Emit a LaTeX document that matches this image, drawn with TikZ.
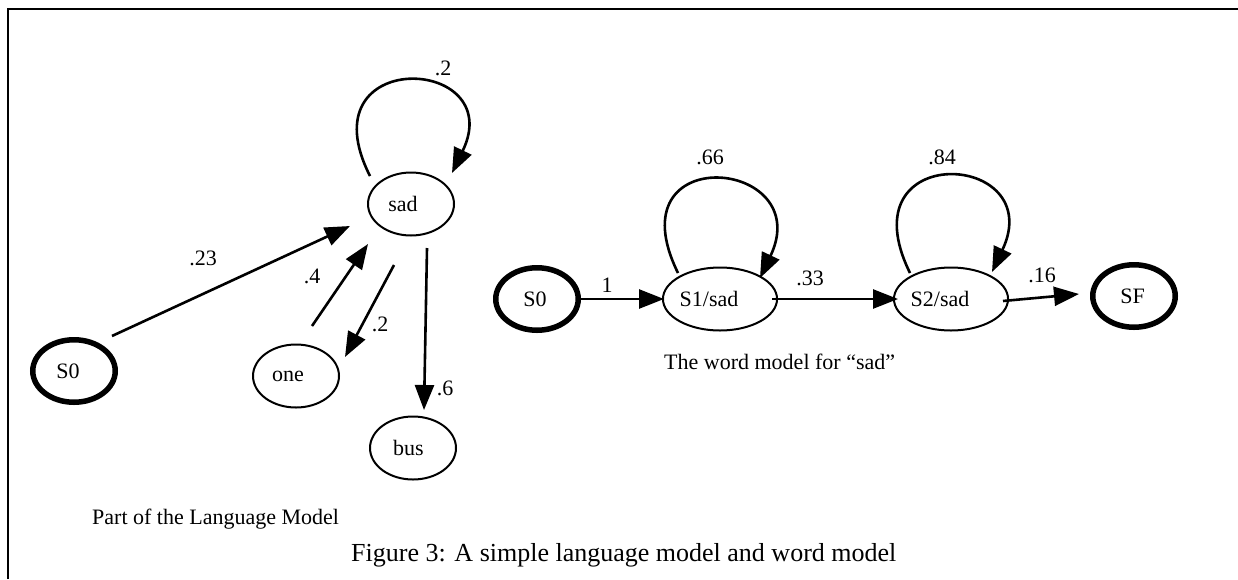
\documentclass[tikz,border=0pt]{standalone}
\usepackage{fontspec}
\setmainfont{Liberation Serif}
\usetikzlibrary{shapes.geometric,arrows.meta}
\begin{document}
\begin{tikzpicture}[x=1pt,y=-1pt,
  st/.style={ellipse,draw,line width=2pt,minimum width=86pt,minimum height=63pt,inner sep=0pt,font=\fontsize{22}{26}\selectfont},
  endst/.style={st,line width=5.5pt,minimum width=82.5pt,minimum height=62.5pt},
  edge/.style={line width=2.6pt,-{Triangle[length=25pt,width=19pt]}},
  lbl/.style={inner sep=0pt,font=\fontsize{22}{26}\selectfont},
  frame/.style={line width=2pt}
]
\useasboundingbox (0,0) rectangle (1238,579);
% frame
\coordinate (fb) at (7.5,579);
\coordinate (fc) at (7.5,8.5);
\coordinate (fr) at (1238,8.5);
\draw[frame] (fb) -- (fc) -- (fr);

% ---- language model ----
\node[endst] (L0) at (74,371) {S0\hspace*{12pt}};
\node[st] (sad) at (411,204) {sad\hspace*{16pt}};
\node[st] (one) at (296,376) {one\hspace*{16pt}};
\node[st] (bus) at (413,448) {bus\hspace*{9pt}};

\draw[edge] ([shift={(-41,-28)}]sad.center) .. controls +(-66,-130) and +(57,-118) .. ([shift={(41,-31)}]sad.center);
\draw[edge] ([shift={(38,-35)}]L0.center) -- ([shift={(-61,22)}]sad.center);
\draw[edge] ([shift={(16,-50)}]one.center) -- ([shift={(-43,40)}]sad.center);
\draw[edge] ([shift={(-17,61)}]sad.center) -- ([shift={(49,-19)}]one.center);
\draw[edge] ([shift={(16,44)}]sad.center) -- ([shift={(11,-38)}]bus.center);

\node[lbl] (l1) at (443,68) {.2};
\node[lbl] (l2) at (203,258) {.23};
\node[lbl] (l3) at (312,276) {.4};
\node[lbl] (l4) at (380,324) {.2};
\node[lbl] (l5) at (445,388) {.6};
\node[lbl,anchor=base west] (t1) at (92,524) {Part of the Language Model};

% ---- word model ----
\node[endst] (R0) at (537,299) {S0\hspace*{4pt}};
\node[st] (S1) at (720,299) {S1/sad\hspace*{22pt}};
\node[st] (S2) at (951,299) {S2/sad\hspace*{22pt}};
\node[endst] (SF) at (1134,296) {SF\hspace*{3pt}};

\draw[edge] ([shift={(-42,-26)}]S1.center) .. controls +(-66,-134) and +(57,-120) .. ([shift={(40,-21)}]S1.center);
\draw[edge] ([shift={(-41,-26)}]S2.center) .. controls +(-66,-134) and +(57,-121) .. ([shift={(41,-27)}]S2.center);
\draw[edge] ([xshift=-1pt]R0.east) -- ([xshift=-56pt]S1.center);
\draw[edge] ([xshift=52pt]S1.center) -- ([xshift=-53pt]S2.center);
\draw[edge] ([shift={(52,2)}]S2.center) -- ([shift={(-55,-2)}]SF.center);

\node[lbl] (l6) at (607,285) {1};
\node[lbl] (l7) at (810,278) {.33};
\node[lbl] (l8) at (710,157) {.66};
\node[lbl] (l9) at (942,157) {.84};
\node[lbl] (l10) at (1042,275) {.16};
\node[lbl,anchor=base west] (t2) at (664,369) {The word model for “sad”};

\node[inner sep=0pt,anchor=base west,font=\fontsize{26}{30}\selectfont] (cap) at (351,561) {Figure 3: A simple language model and word model};
\end{tikzpicture}
\end{document}
